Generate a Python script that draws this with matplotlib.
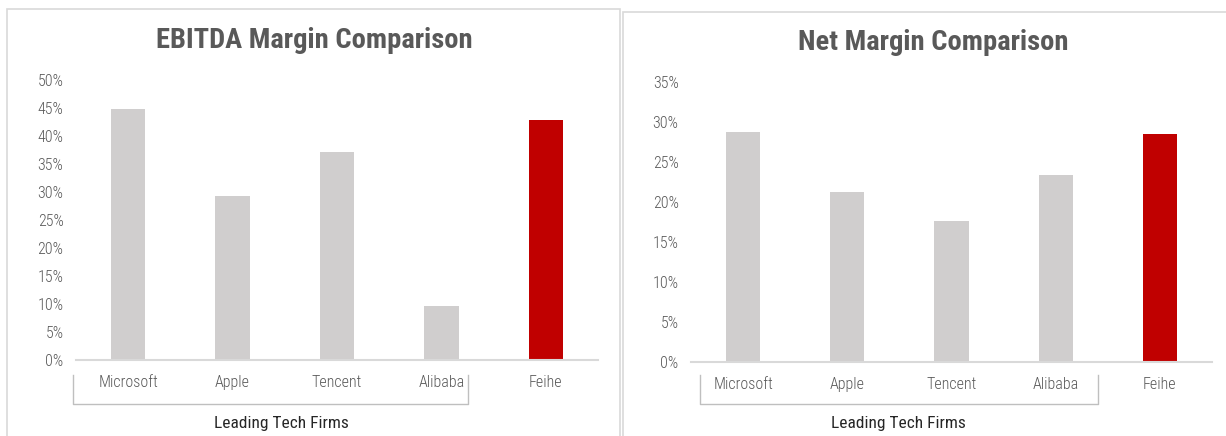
import matplotlib
matplotlib.use("Agg")
import matplotlib.pyplot as plt
from matplotlib import font_manager
from matplotlib.patches import Rectangle
from matplotlib.ticker import PercentFormatter, MultipleLocator

categories = ["Microsoft", "Apple", "Tencent", "Alibaba", "Feihe"]
ebitda_margin = [44.8, 29.2, 37.2, 9.6, 42.8]
net_margin = [28.8, 21.2, 17.6, 23.4, 28.5]
group_label = "Leading Tech Firms"
titles = ["EBITDA Margin Comparison", "Net Margin Comparison"]

names = {f.name for f in font_manager.fontManager.ttflist}
fam = "Roboto Condensed" if "Roboto Condensed" in names else "DejaVu Sans"
plt.rcParams["font.family"] = [fam, "DejaVu Sans"]

W, H = 1226, 436
fig = plt.figure(figsize=(W / 100, H / 100), dpi=100)

def px_rect(x0, y0, x1, y1):
    return [x0 / W, (H - y1) / H, (x1 - x0) / W, (y1 - y0) / H]

fy = lambda y: (H - y) / H
fx = lambda xx: xx / W

# panel frames
for (x0, y0, x1, y1) in [(7, 9, 620, 440), (623, 12, 1229, 440)]:
    fig.patches.append(Rectangle((x0 / W, (H - y1) / H), (x1 - x0) / W, (y1 - y0) / H,
                                 transform=fig.transFigure, fill=False,
                                 edgecolor="#d9d9d9", linewidth=1.2))

grey = "#d0cece"
red = "#c00000"
txt = "#595959"

panels = [
    dict(vals=ebitda_margin, rect=px_rect(76, 80, 598, 360), ymax=50, title_x=314, title_y=40,
         br=(73, 468), lab_x=281),
    dict(vals=net_margin, rect=px_rect(691, 82, 1212, 361.5), ymax=35, title_x=933, title_y=43,
         br=(700, 1098), lab_x=898),
]

for i, p in enumerate(panels):
    ax = fig.add_axes(p["rect"])
    colors = [grey] * (len(categories) - 1) + [red]
    x = list(range(len(categories)))
    ax.bar(x, p["vals"], width=0.33, color=colors, zorder=2)
    ax.set_xlim(-0.5, len(categories) - 0.5)
    ax.set_ylim(0, p["ymax"])
    ax.yaxis.set_major_locator(MultipleLocator(5))
    ax.yaxis.set_major_formatter(PercentFormatter(decimals=0))
    ax.set_xticks(x)
    ax.set_xticklabels(categories)
    ax.tick_params(axis="both", length=0, colors=txt, labelsize=11.5)
    ax.tick_params(axis="x", pad=11)
    ax.tick_params(axis="y", pad=9)
    for lab in ax.get_xticklabels() + ax.get_yticklabels():
        lab.set_fontweight("light")
    for s in ["top", "right", "left"]:
        ax.spines[s].set_visible(False)
    ax.spines["bottom"].set_color("#d9d9d9")
    ax.spines["bottom"].set_linewidth(1.5)
    ax.set_facecolor("none")

    # bracket for group label
    bx0, bx1 = p["br"]
    ys, ye = 375, 404
    fig.add_artist(plt.Line2D([fx(bx0), fx(bx0), fx(bx1), fx(bx1)],
                              [fy(ys), fy(ye), fy(ye), fy(ys)],
                              transform=fig.transFigure, color="#bfbfbf", linewidth=1))
    fig.text(fx(p["lab_x"]), fy(423), group_label, ha="center", va="center",
             fontsize=12.5, color="#262626")
    fig.text(fx(p["title_x"]), fy(p["title_y"]), titles[i], ha="center",
             va="center", fontsize=20.5, fontweight="bold", color=txt)

fig.savefig("out.png", dpi=100, facecolor="white")
